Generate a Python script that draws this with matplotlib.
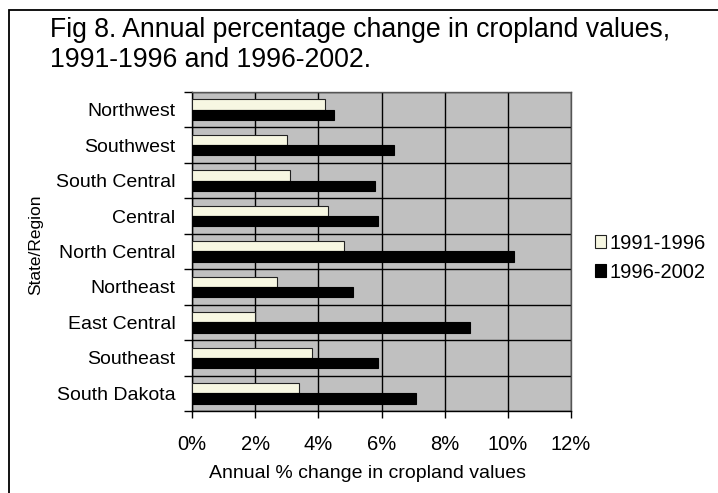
import matplotlib
matplotlib.use('Agg')
import matplotlib.pyplot as plt
from matplotlib.patches import Rectangle
from matplotlib.ticker import FixedLocator, PercentFormatter
import numpy as np

plt.rcParams['font.family'] = ['Liberation Sans', 'DejaVu Sans']

# Données (haut vers bas)
regions = ['Northwest', 'Southwest', 'South Central', 'Central', 'North Central',
           'Northeast', 'East Central', 'Southeast', 'South Dakota']
period_1 = [4.2, 3.0, 3.1, 4.3, 4.8, 2.7, 2.0, 3.8, 3.4]
period_2 = [4.5, 6.4, 5.8, 5.9, 10.2, 5.1, 8.8, 5.9, 7.1]
series_names = ['1991-1996', '1996-2002']
x_ticks = [0, 2, 4, 6, 8, 10, 12]

fig = plt.figure(figsize=(7.18, 4.93), dpi=100)
# Cadre autour de la figure
fig.patches.append(Rectangle((9 / 718, -0.05), 1.2, 1 - 10 / 493 + 0.05,
                             transform=fig.transFigure, fill=False,
                             edgecolor='black', linewidth=1.3))

ax = fig.add_axes([192 / 718, 1 - 411 / 493, 379 / 718, 319 / 493])
ax.set_facecolor('#c0c0c0')

y = np.arange(len(regions))
h = 0.29
ax.barh(y - h / 2, period_1, height=h, color='#f7f7e2', edgecolor='#222222',
        linewidth=0.8, label=series_names[0], zorder=3)
ax.barh(y + h / 2, period_2, height=h, color='black', edgecolor='black',
        linewidth=0.8, label=series_names[1], zorder=3)

ax.set_xlim(0, 12)
ax.set_ylim(len(regions) - 0.5, -0.5)

# Grille : verticale aux graduations, horizontale entre catégories
ax.set_xticks(x_ticks)
ax.xaxis.set_major_formatter(PercentFormatter(decimals=0))
ax.set_yticks(y)
ax.set_yticklabels(regions)
ax.yaxis.set_minor_locator(FixedLocator(np.arange(-0.5, len(regions), 1)))
ax.grid(axis='x', which='major', color='black', linewidth=1, zorder=1)
ax.grid(axis='y', which='minor', color='black', linewidth=1, zorder=1)
ax.set_axisbelow(True)

ax.tick_params(axis='y', which='major', length=0, pad=12, labelsize=14)
ax.tick_params(axis='y', which='minor', length=6, width=1, direction='out')
ax.tick_params(axis='x', length=5, width=1, direction='out', pad=12, labelsize=14.5)

for s in ax.spines.values():
    s.set_color('#555555')
    s.set_linewidth(1)
ax.spines['left'].set_color('black')
ax.spines['bottom'].set_color('black')

ax.set_xlabel('Annual % change in cropland values', fontsize=14)
ax.xaxis.set_label_coords(0.464, -0.169)
ax.set_ylabel('State/Region', fontsize=12.5)
ax.yaxis.set_label_coords(-0.393, 0.52)

ax.legend(loc='center left', bbox_to_anchor=(1.015, 0.48), frameon=False,
          fontsize=14.5, handlelength=0.55, handleheight=0.6, handletextpad=0.2,
          labelspacing=0.5)

fig.text(50 / 718, 1 - 17 / 493, 'Fig 8. Annual percentage change in cropland values,\n1991-1996 and 1996-2002.',
         fontsize=19.2, va='top', ha='left', linespacing=1.2)

plt.savefig('out.png', dpi=100)
plt.close()
